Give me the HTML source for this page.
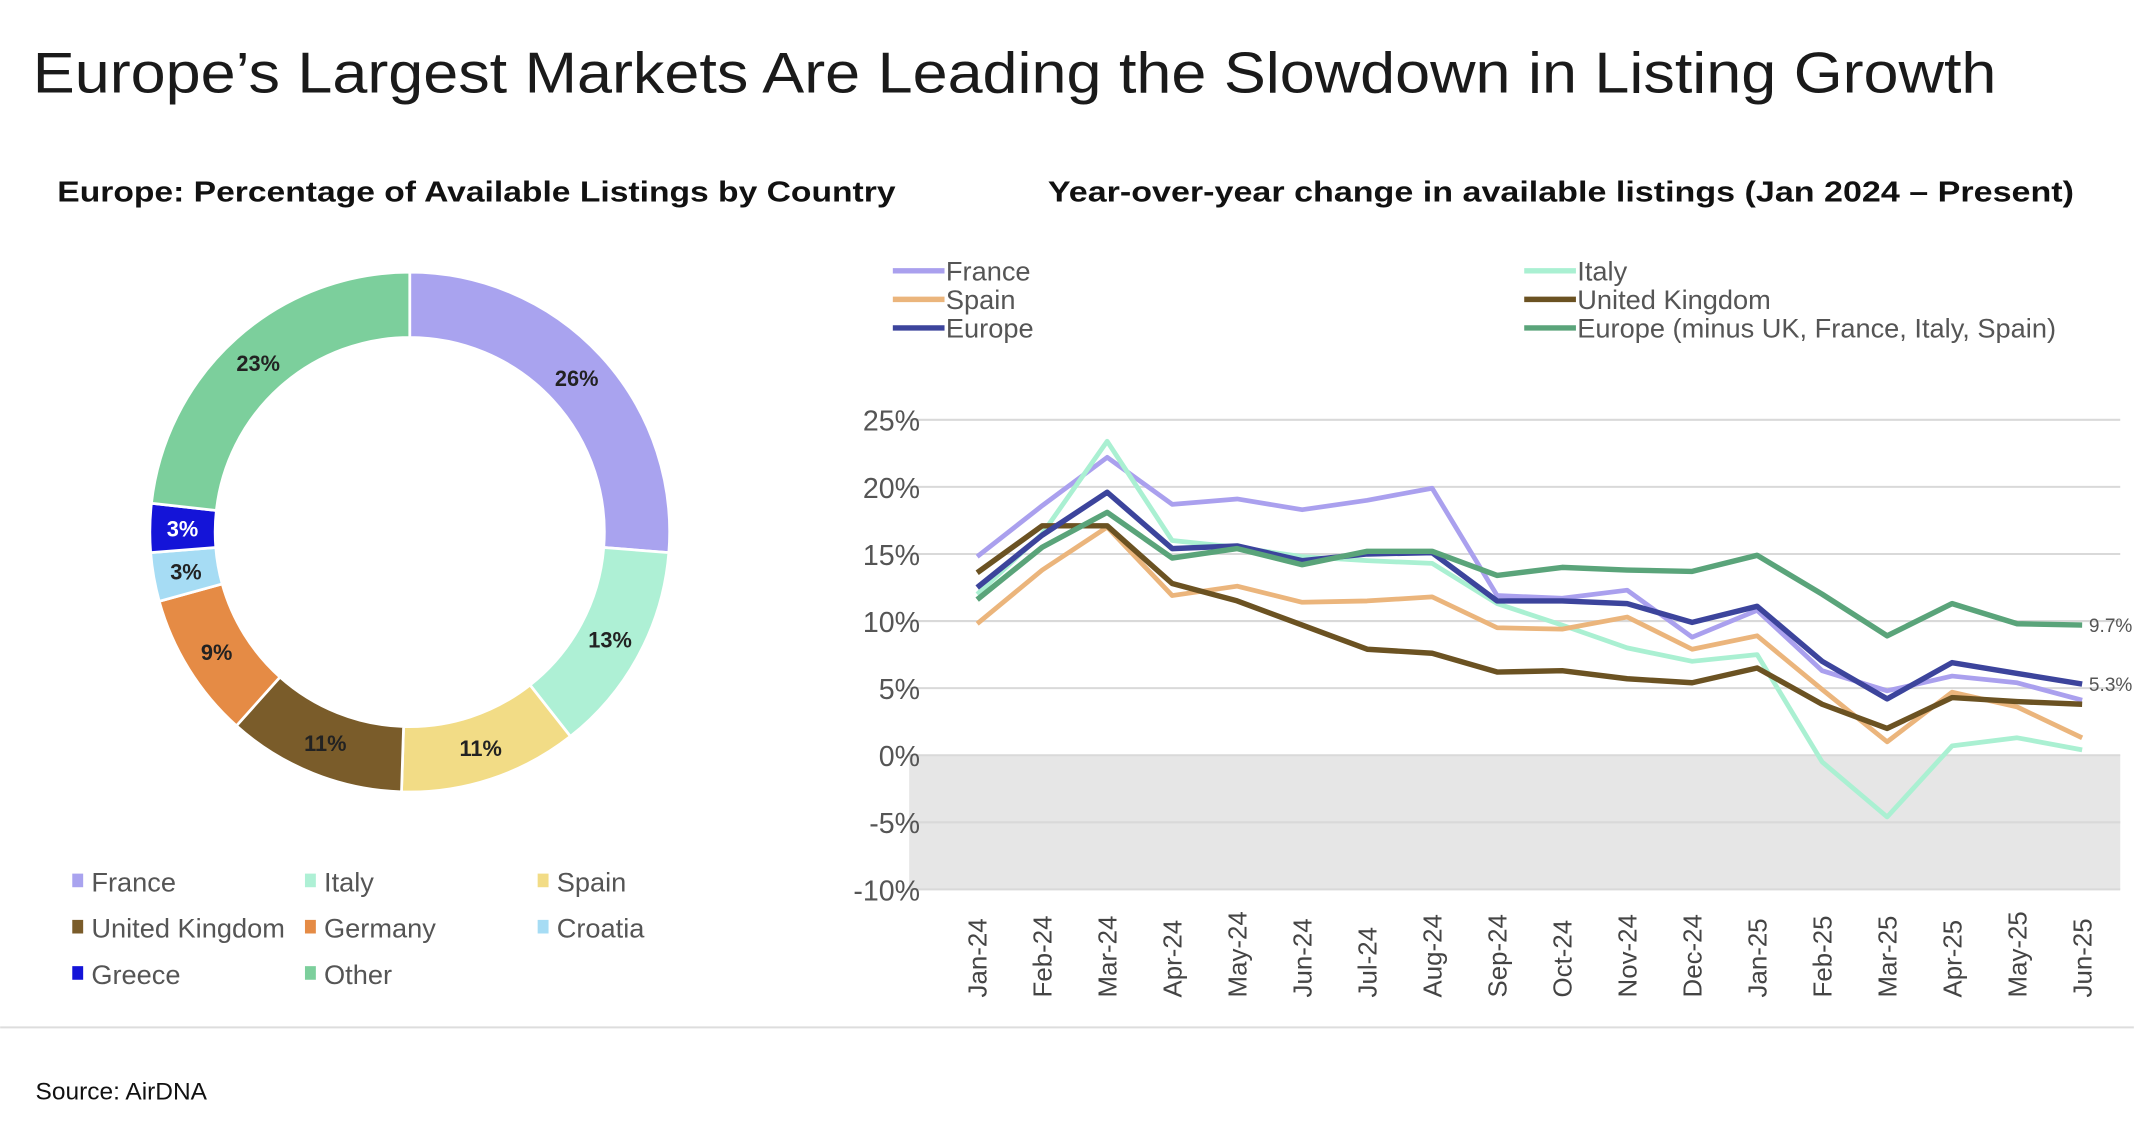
<!DOCTYPE html>
<html><head><meta charset="utf-8">
<style>
html,body{margin:0;padding:0;background:#fff;}
svg{display:block;}
text{font-family:"Liberation Sans",sans-serif;}
</style></head>
<body>
<svg id="root" width="2134" height="1124" viewBox="0 0 1568 826" xmlns="http://www.w3.org/2000/svg">
<text x="24" y="68" font-size="42" fill="#1a1a1a" textLength="1443" lengthAdjust="spacingAndGlyphs">Europe’s Largest Markets Are Leading the Slowdown in Listing Growth</text>
<text x="42" y="148" font-size="21" font-weight="bold" fill="#111" textLength="616" lengthAdjust="spacingAndGlyphs">Europe: Percentage of Available Listings by Country</text>
<text x="770" y="148" font-size="21" font-weight="bold" fill="#111" textLength="754" lengthAdjust="spacingAndGlyphs">Year-over-year change in available listings  (Jan 2024 – Present)</text>
<g id="donut"></g>
<g id="donutLegend"></g>
<g id="line"></g>
<g id="lineLegend"></g>
<line x1="0" y1="755" x2="1568" y2="755" stroke="#ddd" stroke-width="1.5"/>
<text x="26" y="808" font-size="18" fill="#111">Source: AirDNA</text>
</svg>
<script>
const NS="http://www.w3.org/2000/svg";
const donutLabels=["France","Italy","Spain","United Kingdom","Germany","Croatia","Greece","Other"];
const donutValues=[26,13,11,11,9,3,3,23];
const donutColors=["#a9a3ef","#aef0d5","#f2dc86","#7a5c2a","#e58b45","#a6dcf4","#1414d8","#7ccf9c"];
const months=["Jan-24","Feb-24","Mar-24","Apr-24","May-24","Jun-24","Jul-24","Aug-24","Sep-24","Oct-24","Nov-24","Dec-24","Jan-25","Feb-25","Mar-25","Apr-25","May-25","Jun-25"];
const yTicks=[25,20,15,10,5,0,-5,-10];
const seriesNames=["France","Italy","Spain","United Kingdom","Europe","Europe (minus UK, France, Italy, Spain)"];
const franceVals=[14.8,18.6,22.2,18.7,19.1,18.3,19.0,19.9,11.9,11.7,12.3,8.8,10.8,6.3,4.8,5.9,5.4,4.1];
const italyVals=[12.0,16.5,23.4,16.0,15.5,14.8,14.5,14.3,11.3,9.7,8.0,7.0,7.5,-0.5,-4.6,0.7,1.3,0.4];
const spainVals=[9.8,13.8,17.0,11.9,12.6,11.4,11.5,11.8,9.5,9.4,10.3,7.9,8.9,4.9,1.0,4.7,3.6,1.3];
const ukVals=[13.6,17.1,17.1,12.8,11.5,9.7,7.9,7.6,6.2,6.3,5.7,5.4,6.5,3.8,2.0,4.3,4.0,3.8];
const europeVals=[12.5,16.4,19.6,15.4,15.6,14.5,15.0,15.1,11.5,11.5,11.3,9.9,11.1,7.0,4.2,6.9,6.1,5.3];
const otherVals=[11.6,15.5,18.1,14.7,15.4,14.2,15.2,15.2,13.4,14.0,13.8,13.7,14.9,12.0,8.9,11.3,9.8,9.7];
const seriesVals=[franceVals,italyVals,spainVals,ukVals,europeVals,otherVals];
const seriesColors=["#aaa0ee","#aaf0d2","#ebb57c","#6b5222","#3c449c","#5aa47a"];
const seriesWidths=[3.5,3.5,3.5,4,4,4];

function mk(tag,attrs,parent){const e=document.createElementNS(NS,tag);for(const k in attrs)e.setAttribute(k,attrs[k]);parent.appendChild(e);return e;}

// Donut
const dg=document.getElementById('donut');
const cx=301,cy=391,R=191,r=143;
const total=donutValues.reduce((a,b)=>a+b,0);
let acc=0;
donutValues.forEach((v,i)=>{
  const a0=acc/total*2*Math.PI, a1=(acc+v)/total*2*Math.PI; acc+=v;
  const p=(a,rad)=>[cx+rad*Math.sin(a),cy-rad*Math.cos(a)];
  const [x0,y0]=p(a0,R),[x1,y1]=p(a1,R),[x2,y2]=p(a1,r),[x3,y3]=p(a0,r);
  const large=(a1-a0)>Math.PI?1:0;
  const path=mk('path',{d:`M${x0},${y0}A${R},${R} 0 ${large} 1 ${x1},${y1}L${x2},${y2}A${r},${r} 0 ${large} 0 ${x3},${y3}Z`,fill:donutColors[i],stroke:'#fff','stroke-width':2},dg);
  
  
  const am=(a0+a1)/2,[lx,ly]=p(am,(R+r)/2);
  const t=mk('text',{x:lx,y:ly+6,'text-anchor':'middle','font-size':16,'font-weight':'bold',fill:i===6?'#fff':'#222'},dg);
  t.textContent=v+'%';
  
  
});
// Donut legend
const dl=document.getElementById('donutLegend');
donutLabels.forEach((n,i)=>{
  const col=i%3,row=Math.floor(i/3);
  const x=53+col*171,y=648+row*34;
  const g=mk('g',{},dl);
  
  
  mk('rect',{x:x,y:y-6,width:8,height:10,fill:donutColors[i]},g);
  const t=mk('text',{x:x+14,y:y+7,'font-size':20,fill:'#555'},g);t.textContent=n;
});

// Line chart
const lg=document.getElementById('line');
const xL=668,xR=1558,x0=718,dx=(1530-718)/(months.length-1);
const yS=v=>555-v*9.86;
const xS=i=>x0+i*dx;
const shade=mk('rect',{x:xL,y:yS(0),width:xR-xL,height:yS(-10)-yS(0),fill:'#e6e6e6'},lg);


yTicks.forEach(v=>{
  const l=mk('line',{x1:xL,x2:xR,y1:yS(v),y2:yS(v),stroke:'#d9d9d9','stroke-width':1.5},lg);
  
  
  const t=mk('text',{x:676,y:yS(v)+8,'text-anchor':'end','font-size':21,fill:'#555'},lg);
  t.textContent=v+'%';
  
  
});
months.forEach((m,i)=>{
  const t=mk('text',{x:0,y:0,transform:`translate(${xS(i)+7},733) rotate(-90)`,'font-size':19,fill:'#444'},lg);
  t.textContent=m;
  
  
});
seriesVals.forEach((vals,s)=>{
  const pts=vals.map((v,i)=>xS(i)+','+yS(v)).join(' ');
  const pl=mk('polyline',{points:pts,fill:'none',stroke:seriesColors[s],'stroke-width':seriesWidths[s],'stroke-linejoin':'round'},lg);
  
  
});
[[otherVals,'end-label-other'],[europeVals,'end-label-europe']].forEach(([vals,nm])=>{
  const v=vals[vals.length-1];
  const t=mk('text',{x:xS(vals.length-1)+5,y:yS(v)+5,'font-size':14,fill:'#555'},lg);
  t.textContent=v.toFixed(1)+'%';
  
  
});
// Line legend
const ll=document.getElementById('lineLegend');
const legOrder=[0,2,4,1,3,5];
legOrder.forEach((s,k)=>{
  const col=Math.floor(k/3),row=k%3;
  const x=656+col*464,y=199+row*21;
  const g=mk('g',{},ll);
  
  
  mk('line',{x1:x,x2:x+38,y1:y,y2:y,stroke:seriesColors[s],'stroke-width':4},g);
  const t=mk('text',{x:x+39,y:y+7,'font-size':20,fill:'#555'},g);t.textContent=seriesNames[s];
});
</script>
</body></html>
